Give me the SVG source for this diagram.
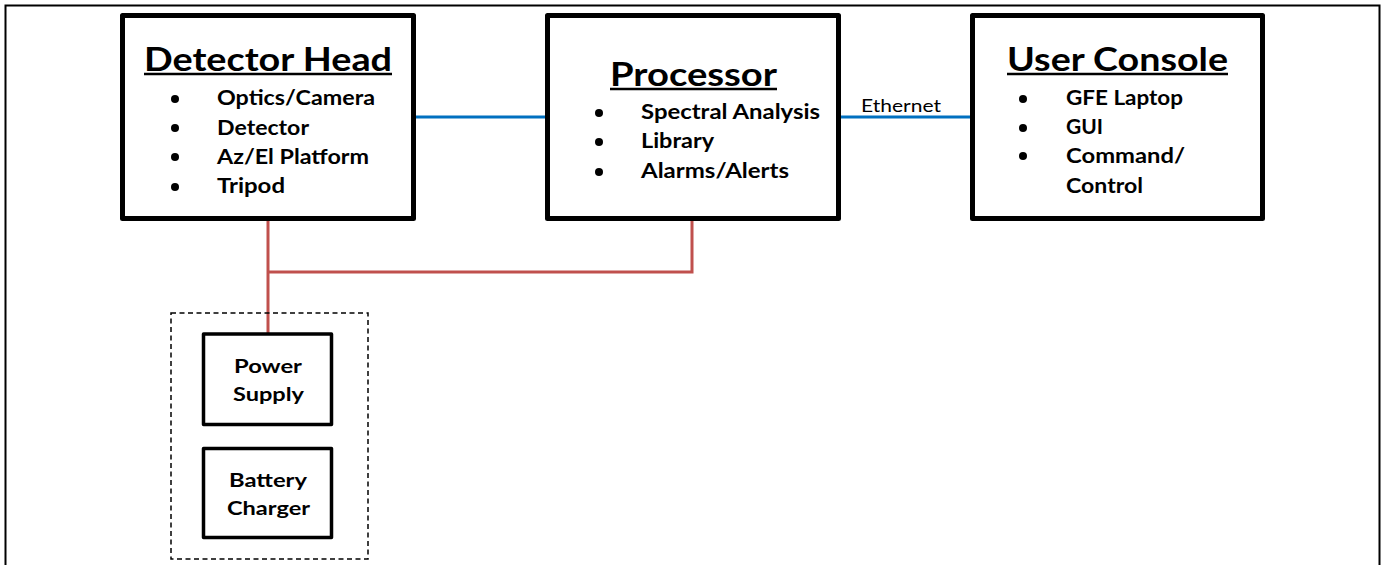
<svg xmlns="http://www.w3.org/2000/svg" width="1383" height="565" viewBox="0 0 1383 565">
<style>
.frame{fill:none;stroke:#000;stroke-width:2}
.box{fill:#fff;stroke:#000;stroke-width:5;stroke-linejoin:round}
.sbox{fill:#fff;stroke:#000;stroke-width:3.5;stroke-linejoin:round}
.dash{fill:none;stroke:#000;stroke-width:1.5;stroke-dasharray:5 3.5}
.title{font-family:Lato,"Liberation Sans",sans-serif;font-weight:bold;font-size:33px;fill:#000}
.item{font-family:Lato,"Liberation Sans",sans-serif;font-weight:bold;font-size:20px;fill:#000}
.small{font-family:Lato,"Liberation Sans",sans-serif;font-weight:bold;font-size:18.5px;fill:#000}
.lbl{font-family:Lato,"Liberation Sans",sans-serif;font-size:17px;fill:#000}
.ul{stroke:#000;stroke-width:2.5}
.blue{stroke:#0070C0;stroke-width:3;fill:none}
.red{stroke:#C0504D;stroke-width:3;fill:none}
</style>
<rect x="0" y="0" width="1383" height="565" fill="#fff"/>
<rect class="frame" x="5.5" y="5.5" width="1374" height="600"/>

<g id="connectors">
<line class="blue" x1="416" y1="117" x2="546" y2="117"/>
<line class="blue" x1="840" y1="117" x2="971" y2="117"/>
<text class="lbl" x="861" y="112" textLength="80" lengthAdjust="spacingAndGlyphs">Ethernet</text>
<polyline class="red" points="268,221 268,334"/>
<polyline class="red" points="268,272 692,272 692,221"/>
</g>

<g id="detector-head">
<rect class="box" x="122.5" y="15.5" width="291" height="203"/>
<text class="title" x="144" y="71" textLength="248" lengthAdjust="spacingAndGlyphs">Detector Head</text>
<line class="ul" x1="144" y1="74" x2="392" y2="74"/>
<circle cx="175" cy="99" r="4"/><circle cx="175" cy="128" r="4"/><circle cx="175" cy="157" r="4"/><circle cx="175" cy="187" r="4"/>
<text class="item" x="217" y="105" textLength="158" lengthAdjust="spacingAndGlyphs">Optics/Camera</text>
<text class="item" x="217" y="135" textLength="92" lengthAdjust="spacingAndGlyphs">Detector</text>
<text class="item" x="217" y="164" textLength="152" lengthAdjust="spacingAndGlyphs">Az/El Platform</text>
<text class="item" x="217" y="193" textLength="68" lengthAdjust="spacingAndGlyphs">Tripod</text>
</g>

<g id="processor">
<rect class="box" x="547.5" y="15.5" width="291" height="203"/>
<text class="title" x="610" y="86" textLength="167" lengthAdjust="spacingAndGlyphs">Processor</text>
<line class="ul" x1="610" y1="89" x2="777" y2="89"/>
<circle cx="599" cy="113" r="4"/><circle cx="599" cy="142" r="4"/><circle cx="599" cy="172" r="4"/>
<text class="item" x="641" y="119" textLength="179" lengthAdjust="spacingAndGlyphs">Spectral Analysis</text>
<text class="item" x="641" y="148" textLength="73" lengthAdjust="spacingAndGlyphs">Library</text>
<text class="item" x="641" y="178" textLength="148" lengthAdjust="spacingAndGlyphs">Alarms/Alerts</text>
</g>

<g id="user-console">
<rect class="box" x="972.5" y="15.5" width="290" height="203"/>
<text class="title" x="1007" y="71" textLength="221" lengthAdjust="spacingAndGlyphs">User Console</text>
<line class="ul" x1="1007" y1="74" x2="1228" y2="74"/>
<circle cx="1023" cy="99" r="4"/><circle cx="1023" cy="128" r="4"/><circle cx="1023" cy="156" r="4"/>
<text class="item" x="1066" y="105" textLength="117" lengthAdjust="spacingAndGlyphs">GFE Laptop</text>
<text class="item" x="1066" y="134" textLength="37" lengthAdjust="spacingAndGlyphs">GUI</text>
<text class="item" x="1066" y="163" textLength="119" lengthAdjust="spacingAndGlyphs">Command/</text>
<text class="item" x="1066" y="193" textLength="77" lengthAdjust="spacingAndGlyphs">Control</text>
</g>

<g id="power-group">
<rect class="dash" x="171" y="313" width="197" height="246"/>
</g>

<g id="power-supply">
<rect class="sbox" x="203.5" y="334" width="128" height="90.5"/>
<text class="small" x="234" y="373" textLength="68" lengthAdjust="spacingAndGlyphs">Power</text>
<text class="small" x="233" y="401" textLength="71" lengthAdjust="spacingAndGlyphs">Supply</text>
</g>

<g id="battery-charger">
<rect class="sbox" x="203.5" y="448.5" width="128" height="89"/>
<text class="small" x="229" y="487" textLength="78" lengthAdjust="spacingAndGlyphs">Battery</text>
<text class="small" x="227" y="515" textLength="83" lengthAdjust="spacingAndGlyphs">Charger</text>
</g>
</svg>
